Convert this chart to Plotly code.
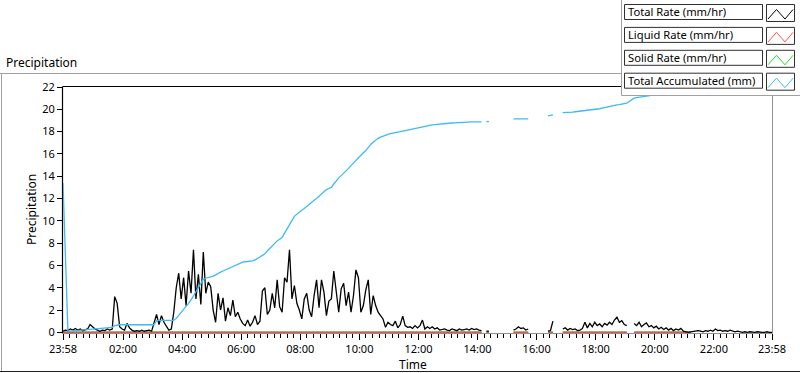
import plotly.graph_objects as go

# ---------------- data (5-minute samples from 23:58) ----------------
N = None
total_rate = [
    0.1, 0.2, 0.15, 0.3, 0.2, 0.35, 0.2, 0.3, 0.15, 0.2,
    0.3, 0.7, 0.5, 0.3, 0.2, 0.1, 0.2, 0.15, 0.3, 0.2,
    0.3, 3.2, 2.6, 0.5, 0.3, 0.2, 0.8, 0.4, 0.2, 0.1,
    0.15, 0.1, 0.2, 0.1, 0.15, 0.2, 0.1, 0.8, 1.6, 0.7,
    1.5, 0.9, 0.5, 0.2, 0.3, 1.8, 4.0, 5.3, 3.0, 4.9,
    2.4, 5.5, 3.5, 7.4, 3.0, 5.2, 2.5, 7.2, 3.5, 4.5,
    4.1, 2.0, 0.9, 3.5, 2.0, 3.1, 1.0, 2.2, 1.5, 2.9,
    1.4, 1.8, 1.2, 0.8, 0.6, 1.1, 0.55, 0.9, 1.5, 0.7,
    1.0, 3.7, 4.0, 1.6, 2.0, 3.5, 2.2, 4.7, 2.3, 1.8,
    4.9, 4.5, 7.4, 3.0, 4.2, 2.6, 2.0, 1.2, 3.0, 3.5,
    2.0, 1.4, 3.3, 4.7, 2.2, 4.7, 3.6, 1.5, 2.8, 3.0,
    5.5, 3.6, 1.8, 3.9, 4.4, 2.4, 3.6, 1.8, 3.3, 5.6,
    4.9, 1.8, 2.4, 3.8, 4.7, 1.6, 3.3, 2.4, 1.8, 1.5,
    1.2, 0.45, 0.9, 0.7, 0.6, 1.0, 0.4, 0.7, 1.45, 0.6,
    0.45, 0.5, 0.35, 0.6, 0.4, 0.6, 1.1, 0.3, 0.5, 0.35,
    0.5, 0.3, 0.4, 0.2, 0.25, 0.3, 0.2, 0.15, 0.3, 0.2,
    0.15, 0.3, 0.2, 0.25, 0.3, 0.2, 0.35, 0.25, 0.3, 0.2,
    0.15, N, 0.1, 0.1, N, N, N, N, N, N,
    N, N, N, 0.2, 0.3, 0.5, 0.35, 0.4, 0.2, 0.3,
    N, N, N, N, N, N, N, 0.1, 0.15, 1.0,
    N, N, N, 0.3, 0.4, 0.2, 0.35, 0.25, 0.3, 0.15,
    0.2, 0.35, 0.9, 0.4, 0.8, 0.5, 0.9, 0.6, 0.75, 0.5,
    0.8, 0.65, 0.9, 0.7, 1.1, 1.35, 0.9, 1.05, 0.7, 0.6,
    N, N, 0.8, 0.6, 0.9, 0.5, 0.7, 0.85, 0.5, 0.6,
    0.4, 0.55, 0.3, 0.45, 0.25, 0.4, 0.2, 0.35, 0.15, 0.3,
    0.2, 0.35, 0.1, 0.05, 0.0, 0.05, 0.1, 0.1, 0.15, 0.1,
    0.05, 0.15, 0.1, 0.2, 0.1, 0.3, 0.15, 0.2, 0.1, 0.15,
    0.1, 0.2, 0.1, 0.05, 0.1, 0.05, 0.0, 0.05, 0.0, 0.05,
    0.0, 0.0, 0.05, 0.0, 0.0, 0.0, 0.05, 0.0, 0.0,
]

total_accumulated = [
    13.4, 6.7, 0.1, 0.1, 0.12, 0.15, 0.15, 0.17, 0.2, 0.2,
    0.22, 0.25, 0.28, 0.3, 0.3, 0.32, 0.35, 0.35, 0.38, 0.4,
    0.45, 0.6, 0.66, 0.68, 0.68, 0.68, 0.68, 0.68, 0.68, 0.68,
    0.68, 0.68, 0.68, 0.68, 0.68, 0.68, 0.68, 0.68, 1.07, 1.07,
    1.07, 1.07, 1.07, 1.07, 1.07, 1.07, 1.25, 1.5, 1.75, 2.0,
    2.3, 2.6, 2.9, 3.25, 3.6, 4.0, 4.4, 4.75, 4.85, 4.9,
    4.95, 5.05, 5.15, 5.3, 5.4, 5.5, 5.6, 5.7, 5.8, 5.9,
    6.0, 6.1, 6.2, 6.3, 6.33, 6.35, 6.38, 6.4, 6.5, 6.6,
    6.75, 6.9, 7.05, 7.3, 7.55, 7.8, 8.0, 8.2, 8.35, 8.5,
    8.9, 9.3, 9.7, 10.1, 10.4, 10.6, 10.8, 10.95, 11.1, 11.3,
    11.5, 11.7, 11.85, 12.0, 12.2, 12.45, 12.65, 12.8, 12.9, 13.0,
    13.3, 13.6, 13.85, 14.05, 14.25, 14.45, 14.7, 14.95, 15.2, 15.45,
    15.7, 15.9, 16.1, 16.3, 16.6, 16.85, 17.05, 17.25, 17.4, 17.5,
    17.6, 17.68, 17.75, 17.82, 17.88, 17.93, 17.97, 18.0, 18.05, 18.1,
    18.15, 18.2, 18.23, 18.27, 18.3, 18.35, 18.4, 18.45, 18.5, 18.55,
    18.6, 18.62, 18.65, 18.67, 18.7, 18.72, 18.74, 18.75, 18.77, 18.78,
    18.8, 18.82, 18.84, 18.85, 18.87, 18.87, 18.87, 18.87, 18.87, 18.87,
    18.87, N, 18.9, 18.9, N, N, N, N, N, N,
    N, N, N, 19.14, 19.14, 19.14, 19.14, 19.15, 19.15, 19.15,
    N, N, N, N, N, N, N, 19.4, 19.45, 19.5,
    N, N, N, 19.7, 19.7, 19.7, 19.72, 19.75, 19.78, 19.8,
    19.82, 19.85, 19.88, 19.92, 19.95, 19.98, 20.0, 20.02, 20.05, 20.1,
    20.15, 20.2, 20.25, 20.35, 20.4, 20.4, 20.42, 20.45, 20.5, 20.55,
    20.7, 20.85, 21.0, 21.05, 21.1, 21.12, 21.15, 21.18, 21.2, 21.3,
    21.4, 21.5, 21.6, 21.65, 21.7, 21.75, 21.8, 21.85, 21.9, 21.95,
    22.0, 22.02, 22.05, 22.07, 22.08, 22.1, 22.1, 22.12, 22.13, 22.15,
    22.15, 22.17, 22.18, 22.2, 22.2, 22.22, 22.23, 22.25, 22.25, 22.26,
    22.27, 22.28, 22.28, 22.29, 22.3, 22.3, 22.3, 22.31, 22.31, 22.31,
    22.32, 22.32, 22.32, 22.32, 22.33, 22.33, 22.33, 22.33, 22.33,
]

# liquid / solid rates read as zero where data exists (gaps as in the reference)
liquid_rate = ([0.0] * 171 + [N] + [0.0] * 2 + [N] * 9 + [0.0] * 7 + [N] * 7 + [0.0] * 3
               + [N] * 3 + [0.0] * 27 + [N] * 2 + [0.0] * 24 + [N] * 33)
solid_rate = list(liquid_rate)

time_hours = [i * 5 / 60 for i in range(len(total_rate))]   # hours after 23:58

major_tick_hours = [0, 2 + 2 / 60, 4 + 2 / 60, 6 + 2 / 60, 8 + 2 / 60, 10 + 2 / 60, 12 + 2 / 60,
                    14 + 2 / 60, 16 + 2 / 60, 18 + 2 / 60, 20 + 2 / 60, 22 + 2 / 60, 24]
major_tick_labels = ["23:58", "02:00", "04:00", "06:00", "08:00", "10:00", "12:00",
                     "14:00", "16:00", "18:00", "20:00", "22:00", "23:58"]
y_ticks = [0, 2, 4, 6, 8, 10, 12, 14, 16, 18, 20, 22]

series_names = ["Total Rate (mm/hr)", "Liquid Rate (mm/hr)", "Solid Rate (mm/hr)", "Total Accumulated (mm)"]
series_colors = ["#000000", "#ff4d4d", "#22dd22", "#3cbaf5"]

# ---------------- geometry helpers ----------------
W, H = 800, 373
PL, PR, PT, PB = 63, 772, 87, 333


def px(x):
    return (x - PL) / (PR - PL)


def py(y):
    return (PB - y) / (PB - PT)


minor_ticks = []
for a, b in zip(major_tick_hours[:-1], major_tick_hours[1:]):
    for k in range(1, 9):
        minor_ticks.append(a + (b - a) * k / 9)

fig = go.Figure()
fig.add_trace(go.Scatter(x=time_hours, y=solid_rate, mode="lines", name=series_names[2],
                         line=dict(color=series_colors[2], width=1.5)))
fig.add_trace(go.Scatter(x=time_hours, y=liquid_rate, mode="lines", name=series_names[1],
                         line=dict(color="#e05555", width=1.6)))
fig.add_trace(go.Scatter(x=time_hours, y=total_rate, mode="lines", name=series_names[0],
                         line=dict(color=series_colors[0], width=1.3)))
fig.add_trace(go.Scatter(x=time_hours, y=total_accumulated, mode="lines", name=series_names[3],
                         line=dict(color=series_colors[3], width=1.3)))

FONT = "Noto Sans, Liberation Sans, Arial, sans-serif"
fig.update_layout(
    width=W, height=H,
    margin=dict(l=PL, r=W - PR, t=PT, b=H - PB, pad=0),
    paper_bgcolor="white", plot_bgcolor="white",
    showlegend=False,
    font=dict(family=FONT, size=11, color="#000000"),
    xaxis=dict(range=[0, 24], tickmode="array", tickvals=major_tick_hours, ticktext=major_tick_labels,
               ticks="outside", ticklen=6, tickwidth=1, tickcolor="#000000",
               showgrid=False, zeroline=False, showline=False,
               tickfont=dict(family=FONT, size=11, color="#000000"),
               minor=dict(tickmode="array", tickvals=minor_ticks, ticks="outside", ticklen=4,
                          tickwidth=1, tickcolor="#000000", showgrid=False)),
    yaxis=dict(range=[-0.06, 22], tickmode="array", tickvals=y_ticks,
               ticks="outside", ticklen=5, tickwidth=1, tickcolor="#000000",
               showgrid=False, zeroline=False, showline=False,
               tickfont=dict(family=FONT, size=11, color="#000000")),
)

shapes = []


def line(x0, y0, x1, y1, color, width=1, layer="below"):
    shapes.append(dict(type="line", xref="paper", yref="paper", x0=px(x0), y0=py(y0), x1=px(x1), y1=py(y1),
                       line=dict(color=color, width=width), layer=layer))


def rect(x0, y0, x1, y1, color, fill=None, layer="above"):
    shapes.append(dict(type="rect", xref="paper", yref="paper", x0=px(x0), y0=py(y0), x1=px(x1), y1=py(y1),
                       line=dict(color=color, width=1), fillcolor=fill, layer=layer))


# outer frame
line(0, 73.5, 622, 73.5, "#a0a0a0")
line(1.5, 73, 1.5, 372, "#a0a0a0")
line(0, 371.5, 800, 371.5, "#202020")
# plot frame
line(62.5, 86.5, 772.5, 86.5, "#000000", 1.2)
line(62.5, 86.5, 62.5, 333.5, "#000000", 1.2)
line(772.5, 86.5, 772.5, 333.5, "#909090")
line(62.5, 333.5, 772.5, 333.5, "#909090")

# legend panel
rect(621.5, -2, 802, 95.5, "#a0a0a0", "white")
annotations = []
for k, (name, color) in enumerate(zip(series_names, series_colors)):
    top = 4 + 22.9 * k
    rect(624.5, top + 0.5, 762.5, top + 15.5, "#303030", "white")
    rect(766.5, top + 0.5, 794.5, top + 17.5, "#303030", "white")
    pts = [(768, top + 15), (776.5, top + 5.5), (785, top + 15), (793, top + 5.5)]
    path = "M " + " L ".join(f"{px(a)},{py(b)}" for a, b in pts)
    shapes.append(dict(type="path", xref="paper", yref="paper", path=path,
                       line=dict(color=color, width=1), layer="above"))
    annotations.append(dict(xref="paper", yref="paper", x=px(626), y=py(top + 8), text=name,
                            showarrow=False, xanchor="left", yanchor="middle",
                            font=dict(family=FONT, size=11.2, color="#000000")))

annotations.append(dict(xref="paper", yref="paper", x=px(4), y=py(63), text="Precipitation",
                        showarrow=False, xanchor="left", yanchor="middle",
                        font=dict(family=FONT, size=12, color="#000000")))
annotations.append(dict(xref="paper", yref="paper", x=px(31), y=py(210), text="Precipitation",
                        textangle=-90, showarrow=False, xanchor="center", yanchor="middle",
                        font=dict(family=FONT, size=12, color="#000000")))
annotations.append(dict(xref="paper", yref="paper", x=px(413), y=py(364), text="Time",
                        showarrow=False, xanchor="center", yanchor="middle",
                        font=dict(family=FONT, size=12, color="#000000")))

fig.update_layout(shapes=shapes, annotations=annotations)
fig.write_html("out.html", config={"displayModeBar": False},
               post_script="document.body.style.margin='0px';document.body.style.overflow='hidden';")
